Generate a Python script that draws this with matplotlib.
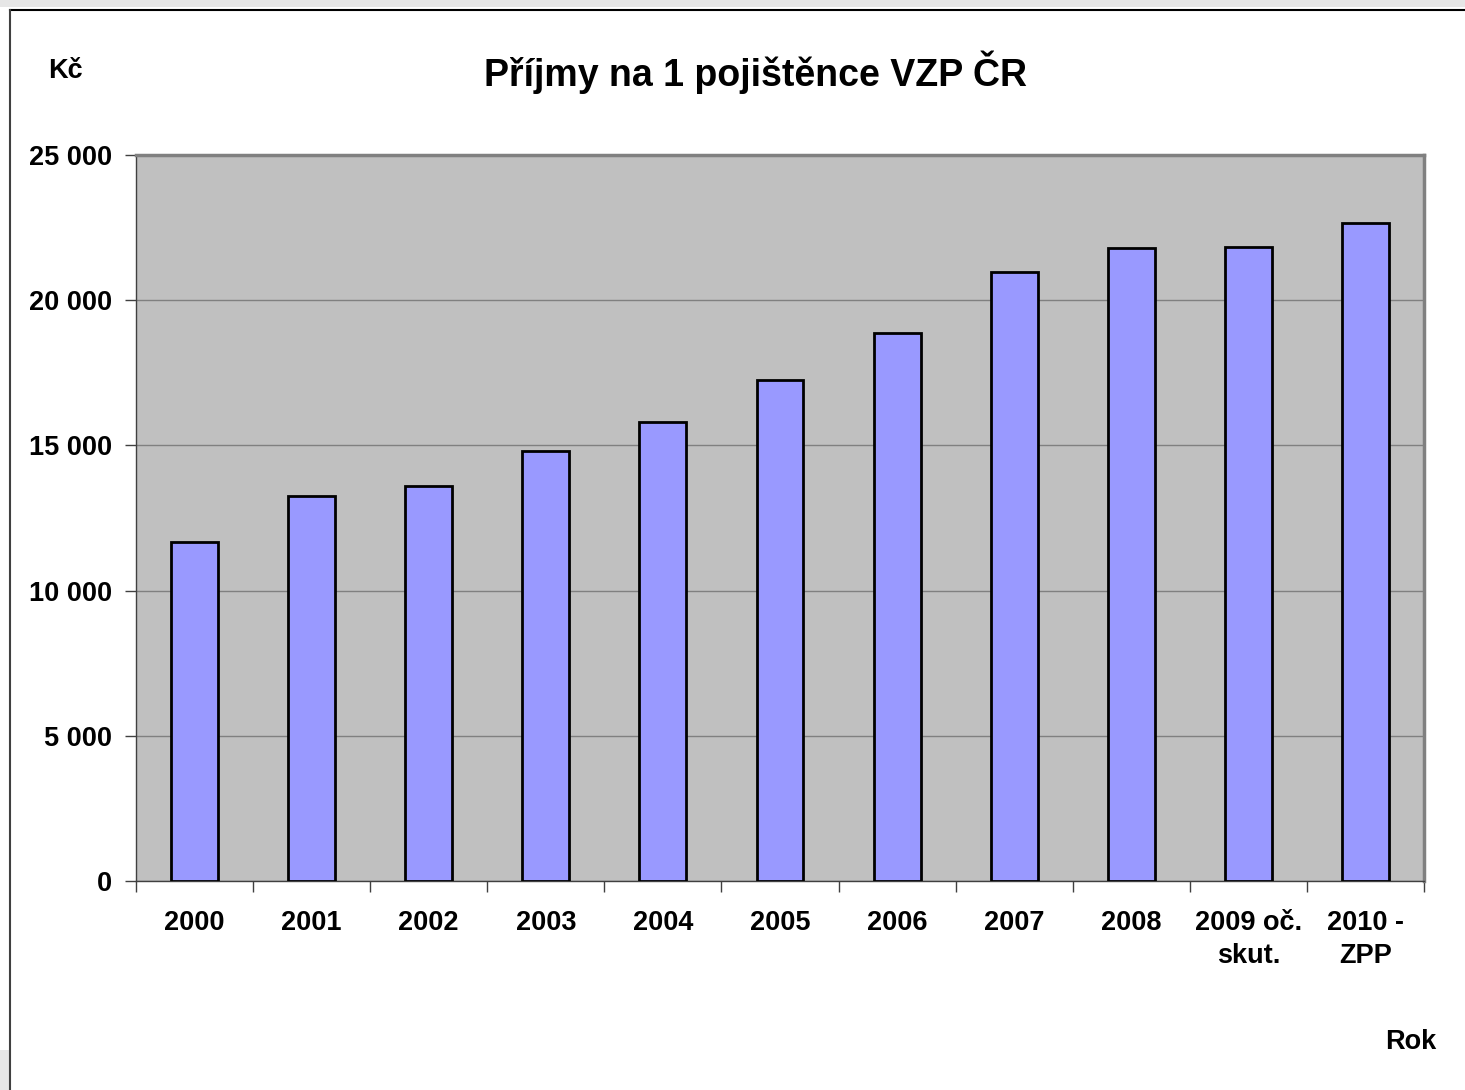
import matplotlib.pyplot as plt
from matplotlib.patches import Rectangle
from matplotlib.lines import Line2D
import numpy as np

plt.rcParams['font.family'] = ['Liberation Sans', 'DejaVu Sans']

# Data
years = ['2000', '2001', '2002', '2003', '2004', '2005', '2006', '2007', '2008',
         '2009 oč.\nskut.', '2010 -\nZPP']
income = [11670, 13250, 13600, 14810, 15810, 17250, 18870, 20970, 21800, 21830, 22660]
yticks = [0, 5000, 10000, 15000, 20000, 25000]

fig = plt.figure(figsize=(14.65, 10.9), dpi=100)
fig.patch.set_facecolor('white')

# window-like frame around the chart
fig.add_artist(Rectangle((0, 1 - 7 / 1090), 1, 7 / 1090, transform=fig.transFigure,
                         facecolor='#e6e6e6', edgecolor='none'))
fig.add_artist(Rectangle((0, 0), 9 / 1465, 40 / 1090, transform=fig.transFigure,
                         facecolor='#e6e6e6', edgecolor='none'))
fig.add_artist(Line2D([9.5 / 1465, 1], [1 - 9.5 / 1090, 1 - 9.5 / 1090],
                      transform=fig.transFigure, color='black', lw=1.5))
fig.add_artist(Line2D([9.5 / 1465, 9.5 / 1465], [0, 1 - 9.5 / 1090],
                      transform=fig.transFigure, color='#404040', lw=1.5))

ax = fig.add_axes([136 / 1465, 1 - 881 / 1090, 1288 / 1465, 726 / 1090])
ax.set_facecolor('#c0c0c0')

x = np.arange(len(years))
ax.bar(x, income, width=0.4, color='#9999ff', edgecolor='black', linewidth=2, zorder=3)

ax.set_xlim(-0.5, len(years) - 0.5)
ax.set_ylim(0, 25000)
ax.set_yticks(yticks)
ax.set_yticklabels([f'{v:,}'.replace(',', ' ') for v in yticks],
                   fontsize=19.5, fontweight='bold')
ax.set_xticks(x)
ax.set_xticklabels(years, fontsize=19.5, fontweight='bold', linespacing=1.33)
ax.set_xticks(np.arange(len(years) + 1) - 0.5, minor=True)
ax.tick_params(axis='x', which='major', length=0, pad=21)
ax.tick_params(axis='x', which='minor', length=8, width=1, color='#404040')
ax.tick_params(axis='y', length=8, width=1, color='#404040', pad=9)

ax.yaxis.grid(True, color='#808080', linewidth=1, zorder=0)
ax.set_axisbelow(True)

for side in ['top', 'right']:
    ax.spines[side].set_color('#808080')
    ax.spines[side].set_linewidth(2.5)
for side in ['left', 'bottom']:
    ax.spines[side].set_color('#404040')
    ax.spines[side].set_linewidth(1)

fig.text(755 / 1465, 1 - 72 / 1090, 'Příjmy na 1 pojištěnce VZP ČR', ha='center', va='center',
         fontsize=27, fontweight='bold')
fig.text(65 / 1465, 1 - 71 / 1090, 'Kč', ha='center', va='center', fontsize=19.5,
         fontweight='bold')
fig.text(1411 / 1465, 1 - 1042 / 1090, 'Rok', ha='center', va='center', fontsize=19.5,
         fontweight='bold')

fig.savefig('out.png', dpi=100)
